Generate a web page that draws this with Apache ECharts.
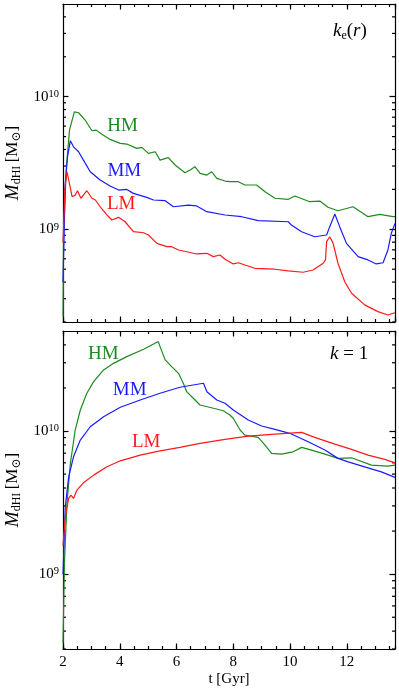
<!DOCTYPE html>
<html>
<head>
<meta charset="utf-8">
<script src="https://cdn.jsdelivr.net/npm/echarts@6/dist/echarts.min.js"></script>
<style>
html, body { margin: 0; padding: 0; background: #fff; }
#chart { width: 399px; height: 698px; }
</style>
</head>
<body>
<div id="chart"></div>
<script>
// 数据：[t (Gyr), log10(M / Msun)]
var hmTop = [[2.0, 8.34], [2.02, 8.97], [2.12, 9.47], [2.23, 9.75], [2.40, 9.886], [2.55, 9.879], [2.78, 9.824], [3.02, 9.743], [3.17, 9.748], [3.37, 9.716], [3.66, 9.678], [4.02, 9.648], [4.25, 9.643], [4.60, 9.610], [4.78, 9.618], [5.01, 9.573], [5.25, 9.585], [5.42, 9.522], [5.71, 9.540], [5.95, 9.485], [6.30, 9.427], [6.48, 9.447], [6.65, 9.472], [6.83, 9.422], [7.07, 9.409], [7.24, 9.434], [7.42, 9.384], [7.71, 9.364], [7.88, 9.359], [8.18, 9.359], [8.41, 9.334], [8.82, 9.334], [9.12, 9.283], [9.47, 9.234], [9.94, 9.226], [10.17, 9.251], [10.70, 9.208], [11.05, 9.213], [11.34, 9.166], [11.69, 9.140], [12.22, 9.170], [12.75, 9.095], [13.16, 9.113], [13.63, 9.095], [13.7, 9.095]];
var mmTop = [[2.0, 8.6], [2.08, 9.347], [2.16, 9.547], [2.26, 9.668], [2.37, 9.622], [2.55, 9.585], [2.72, 9.522], [2.96, 9.434], [3.31, 9.372], [3.66, 9.326], [3.96, 9.296], [4.25, 9.301], [4.48, 9.271], [4.95, 9.241], [5.19, 9.221], [5.60, 9.216], [5.89, 9.170], [6.42, 9.183], [6.71, 9.176], [7.07, 9.133], [7.71, 9.108], [8.30, 9.095], [8.88, 9.065], [9.94, 9.057], [10.05, 9.032], [10.41, 8.982], [10.87, 8.944], [11.29, 8.957], [11.40, 9.020], [11.58, 9.115], [11.75, 9.020], [11.99, 8.894], [12.40, 8.794], [12.75, 8.769], [13.04, 8.739], [13.28, 8.748], [13.45, 8.844], [13.57, 8.970], [13.7, 9.045]];
var lmTop = [[2.0, 8.9], [2.07, 9.321], [2.14, 9.434], [2.20, 9.372], [2.32, 9.246], [2.43, 9.258], [2.51, 9.291], [2.63, 9.234], [2.84, 9.291], [3.02, 9.234], [3.14, 9.221], [3.31, 9.170], [3.55, 9.108], [3.72, 9.070], [3.96, 9.090], [4.19, 9.057], [4.48, 8.982], [4.84, 8.974], [5.01, 8.957], [5.31, 8.894], [5.66, 8.869], [5.83, 8.869], [6.07, 8.844], [6.36, 8.831], [6.71, 8.814], [7.07, 8.819], [7.30, 8.794], [7.53, 8.806], [7.71, 8.774], [8.00, 8.739], [8.18, 8.748], [8.41, 8.731], [8.76, 8.706], [9.47, 8.699], [9.94, 8.686], [10.46, 8.676], [10.81, 8.693], [11.17, 8.744], [11.25, 8.769], [11.29, 8.907], [11.40, 8.944], [11.52, 8.894], [11.69, 8.744], [11.93, 8.605], [12.17, 8.518], [12.63, 8.430], [13.10, 8.379], [13.45, 8.354], [13.63, 8.367], [13.7, 8.37]];

var hmBottom = [[2.0, 8.515], [2.05, 9.075], [2.14, 9.494], [2.26, 9.774], [2.43, 10.007], [2.61, 10.147], [2.84, 10.264], [3.08, 10.345], [3.43, 10.427], [3.78, 10.473], [4.25, 10.520], [4.84, 10.571], [5.36, 10.625], [5.42, 10.590], [5.60, 10.497], [5.83, 10.450], [6.07, 10.403], [6.24, 10.334], [6.36, 10.275], [6.59, 10.229], [6.83, 10.182], [7.30, 10.159], [7.65, 10.142], [7.88, 10.112], [8.00, 10.089], [8.24, 10.007], [8.41, 9.972], [8.88, 9.956], [9.12, 9.902], [9.35, 9.844], [9.70, 9.839], [10.11, 9.855], [10.41, 9.886], [10.76, 9.867], [11.23, 9.839], [11.69, 9.809], [12.17, 9.813], [12.87, 9.762], [13.45, 9.755], [13.7, 9.762]];
var mmBottom = [[2.0, 9.0], [2.08, 9.471], [2.20, 9.680], [2.37, 9.820], [2.61, 9.937], [2.96, 10.030], [3.43, 10.100], [4.02, 10.166], [4.72, 10.217], [5.42, 10.264], [6.12, 10.306], [6.95, 10.334], [7.07, 10.275], [7.42, 10.217], [7.71, 10.194], [8.00, 10.147], [8.53, 10.077], [9.00, 10.035], [9.47, 10.012], [9.99, 9.984], [10.64, 9.925], [11.23, 9.867], [11.69, 9.809], [12.05, 9.785], [12.63, 9.750], [13.22, 9.715], [13.7, 9.676]];
var lmBottom = [[2.0, 9.2], [2.08, 9.401], [2.20, 9.529], [2.28, 9.552], [2.37, 9.529], [2.49, 9.587], [2.72, 9.638], [3.08, 9.692], [3.55, 9.750], [4.02, 9.792], [4.72, 9.832], [5.42, 9.862], [6.12, 9.886], [6.83, 9.914], [7.71, 9.942], [8.53, 9.965], [9.47, 9.979], [10.41, 9.991], [10.87, 9.956], [11.58, 9.909], [12.17, 9.872], [12.75, 9.832], [13.34, 9.802], [13.7, 9.778]];

// 曲线名的位置 [t, M]
var hmLabelTop = [4.10, 6.05e9];
var mmLabelTop = [4.16, 2.77e9];
var lmLabelTop = [4.05, 1.55e9];
var hmLabelBottom = [3.42, 3.45e10];
var mmLabelBottom = [4.35, 1.94e10];
var lmLabelBottom = [4.93, 8.32e9];

// 刻度
var xMajorTicks = [2, 4, 6, 8, 10, 12];
var xMinorStep = 0.5;
var yMinorTicksTop = [2e8, 3e8, 4e8, 5e8, 6e8, 7e8, 8e8, 9e8, 2e9, 3e9, 4e9, 5e9, 6e9, 7e9, 8e9, 9e9, 2e10, 3e10, 4e10];
var yMinorTicksBottom = [3e8, 4e8, 5e8, 6e8, 7e8, 8e8, 9e8, 2e9, 3e9, 4e9, 5e9, 6e9, 7e9, 8e9, 9e9, 2e10, 3e10, 4e10];

var X_MIN = 2, X_MAX = 13.7;
var SERIF = "'Liberation Serif', 'DejaVu Serif', serif";
var GREEN = '#1f8a1f', BLUE = '#1a1aff', RED = '#ff1a1a';
var INK = '#000';

function toMass(arr) {
    return arr.map(function (p) { return [p[0], Math.pow(10, p[1])]; });
}

function frameLine(show) {
    return { show: show, onZero: false, lineStyle: { color: INK, width: 1.2 } };
}
function tickStyle(len) {
    return { show: true, inside: true, length: len, lineStyle: { color: INK, width: 1.2 } };
}

function yLabel(v) {
    var e = Math.log10(v);
    if (Math.abs(e - Math.round(e)) < 1e-6) {
        return '{b|10}{s|' + Math.round(e) + '}';
    }
    return '';
}

var yName = '{m|M}{sub|dHI} {n|[M}{sub|⊙}{n|]}';
var yNameRich = {
    m: { fontFamily: SERIF, fontStyle: 'italic', fontSize: 19, color: INK, lineHeight: 20 },
    n: { fontFamily: SERIF, fontSize: 17, color: INK, lineHeight: 20 },
    sub: { fontFamily: SERIF, fontSize: 12, color: INK, lineHeight: 12, verticalAlign: 'bottom' }
};
var yLabelRich = {
    b: { fontFamily: SERIF, fontSize: 15, color: INK, lineHeight: 16 },
    s: { fontFamily: SERIF, fontSize: 10.5, color: INK, lineHeight: 10, verticalAlign: 'top' }
};

// 每个面板四条 x 轴：下(主)、下(次刻度)、上(主)、上(次刻度)
function xAxes(gridIndex, showLabels) {
    var base = { gridIndex: gridIndex, type: 'value', min: X_MIN, max: X_MAX, splitLine: { show: false } };
    return [
        Object.assign({}, base, {
            position: 'bottom', interval: 2, axisLine: frameLine(true), axisTick: tickStyle(5.5),
            axisLabel: {
                show: showLabels, margin: 6, fontFamily: SERIF, fontSize: 15, color: INK,
                showMaxLabel: false,
                formatter: function (v) { return xMajorTicks.indexOf(v) >= 0 ? String(v) : ''; }
            },
            name: showLabels ? 't [Gyr]' : '', nameLocation: 'middle', nameGap: 23,
            nameTextStyle: { fontFamily: SERIF, fontSize: 15, color: INK }
        }),
        Object.assign({}, base, { position: 'bottom', interval: xMinorStep, axisLine: frameLine(false), axisTick: tickStyle(3), axisLabel: { show: false } }),
        Object.assign({}, base, { position: 'top', interval: 2, axisLine: frameLine(true), axisTick: tickStyle(5.5), axisLabel: { show: false } }),
        Object.assign({}, base, { position: 'top', interval: xMinorStep, axisLine: frameLine(false), axisTick: tickStyle(3), axisLabel: { show: false } })
    ];
}

function yAxes(gridIndex, min, max) {
    var base = { gridIndex: gridIndex, type: 'log', logBase: 10, min: min, max: max, splitLine: { show: false }, minorTick: { show: false } };
    return [
        Object.assign({}, base, {
            position: 'left', axisLine: frameLine(true), axisTick: tickStyle(5.5),
            axisLabel: { margin: 4, formatter: yLabel, rich: yLabelRich, showMinLabel: false, showMaxLabel: false },
            name: yName, nameLocation: 'middle', nameRotate: 90, nameGap: 38,
            nameTextStyle: { rich: yNameRich }
        }),
        Object.assign({}, base, {
            position: 'right', axisLine: frameLine(true), axisTick: tickStyle(5.5), axisLabel: { show: false }
        })
    ];
}

function lineSeries(name, data, color, xIdx, yIdx, labelPos) {
    return {
        name: name, type: 'line', data: toMass(data), xAxisIndex: xIdx, yAxisIndex: yIdx,
        showSymbol: false, symbol: 'none', animation: false, silent: true,
        lineStyle: { color: color, width: 1.2 },
        markPoint: {
            symbol: 'circle', symbolSize: 1, itemStyle: { color: 'rgba(0,0,0,0)' }, silent: true,
            label: { show: true, position: 'inside', formatter: name, color: color, fontFamily: SERIF, fontSize: 19 },
            data: [{ coord: labelPos }]
        }
    };
}

var titleRich = {
    k: { fontFamily: SERIF, fontStyle: 'italic', fontWeight: 'normal', fontSize: 19, color: INK, lineHeight: 22 },
    e: { fontFamily: SERIF, fontWeight: 'normal', fontSize: 12, color: INK, lineHeight: 12, verticalAlign: 'bottom' },
    p: { fontFamily: SERIF, fontWeight: 'normal', fontSize: 19, color: INK, lineHeight: 22 }
};

var chart = echarts.init(document.getElementById('chart'), null, { renderer: 'canvas' });
chart.setOption({
    animation: false,
    backgroundColor: '#fff',
    title: [{
        text: '{k|k}{e|e}{p|(}{k|r}{p|)}', left: 333, top: 20, padding: 0,
        textStyle: { fontWeight: 'normal', rich: titleRich }
    }, {
        text: '{k|k}{p| = 1}', left: 330, top: 343, padding: 0,
        textStyle: { fontWeight: 'normal', rich: titleRich }
    }],
    grid: [
        { left: 63, top: 4, width: 332, height: 318, containLabel: false, outerBoundsMode: 'none' },
        { left: 63, top: 331, width: 332, height: 318, containLabel: false, outerBoundsMode: 'none' }
    ],
    xAxis: xAxes(0, false).concat(xAxes(1, true)),
    yAxis: yAxes(0, 2e8, 5e10).concat(yAxes(1, 3e8, 5e10)),
    series: [
        lineSeries('HM', hmTop, GREEN, 0, 0, hmLabelTop),
        lineSeries('MM', mmTop, BLUE, 0, 0, mmLabelTop),
        lineSeries('LM', lmTop, RED, 0, 0, lmLabelTop),
        lineSeries('HM', hmBottom, GREEN, 4, 2, hmLabelBottom),
        lineSeries('MM', mmBottom, BLUE, 4, 2, mmLabelBottom),
        lineSeries('LM', lmBottom, RED, 4, 2, lmLabelBottom)
    ]
});

// 对数轴的次刻度（2..9 倍），位置用坐标轴换算
function yMinorLines(seriesIdx, yMinor) {
    var finder = { seriesIndex: seriesIdx };
    var out = [];
    var lo = chart.convertToPixel(finder, [X_MIN, yMinor[0]]);
    var hi = chart.convertToPixel(finder, [X_MAX, yMinor[0]]);
    if (!lo || !hi) return out;
    var left = lo[0], right = hi[0];
    yMinor.forEach(function (v) {
        var y = chart.convertToPixel(finder, [X_MIN, v])[1];
        out.push({ type: 'line', shape: { x1: left, y1: y, x2: left + 3, y2: y }, style: { stroke: INK, lineWidth: 1.2 } });
        out.push({ type: 'line', shape: { x1: right, y1: y, x2: right - 3, y2: y }, style: { stroke: INK, lineWidth: 1.2 } });
    });
    return out;
}

chart.setOption({
    graphic: yMinorLines(0, yMinorTicksTop).concat(yMinorLines(3, yMinorTicksBottom))
});
</script>
</body>
</html>
